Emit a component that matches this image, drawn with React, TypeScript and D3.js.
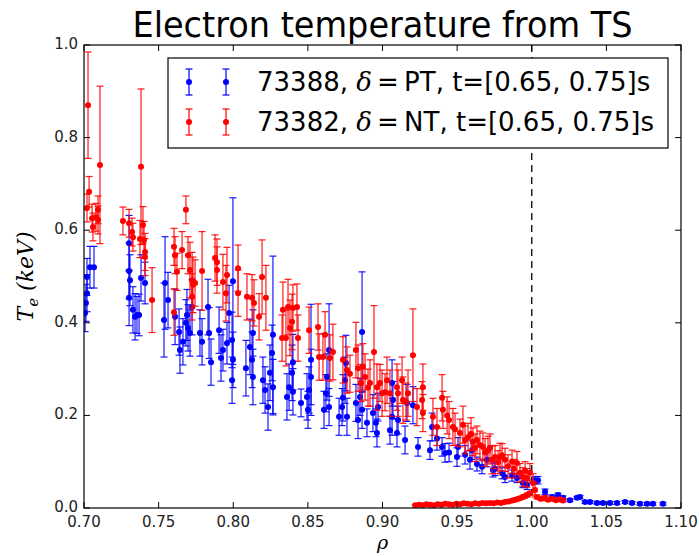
import React from "react";
import * as d3 from "d3";

// ---------- data ----------
const blueRho = [
  0.7007, 0.7013, 0.7020, 0.7020, 0.7040, 0.7067,
  0.7302, 0.7302, 0.7308, 0.7302, 0.7328, 0.7342, 0.7355, 0.7369, 0.7382, 0.7409,
  0.7543, 0.7536, 0.7563, 0.7610, 0.7637, 0.7643, 0.7663, 0.7683, 0.7690, 0.7697, 0.7710, 0.7724,
  0.7777, 0.7791, 0.7831, 0.7838, 0.7851, 0.7905, 0.7918, 0.7931, 0.7958, 0.7972, 0.7992, 0.7998, 0.7992, 0.7998,
  0.8085, 0.8112, 0.8126, 0.8132, 0.8132, 0.8199, 0.8213, 0.8233, 0.8246, 0.8260, 0.8266, 0.8266,
  0.8360, 0.8374, 0.8394, 0.8400, 0.8400, 0.8454, 0.8494, 0.8501, 0.8508, 0.8521, 0.8521,
  0.8608, 0.8621, 0.8628, 0.8642, 0.8642, 0.8709, 0.8729, 0.8735, 0.8749, 0.8755, 0.8762,
  0.8822, 0.8836, 0.8849, 0.8863, 0.8863, 0.8896, 0.8936, 0.8956, 0.8963, 0.8970,
  0.9050, 0.9064, 0.9070, 0.9097, 0.9064, 0.9104, 0.9151, 0.9164, 0.9204, 0.9238,
  0.9318, 0.9332, 0.9365, 0.9399, 0.9419, 0.9446, 0.9499, 0.9506, 0.9553, 0.9586, 0.9600,
  0.9633, 0.9667, 0.9700, 0.9740, 0.9754, 0.9801,
  0.9821, 0.9868, 0.9901, 0.9941, 0.9968, 1.0022, 1.0042, 1.0089,
  1.0136, 1.0176, 1.0209, 1.0256, 1.0303, 1.0323, 1.0357, 1.0390, 1.0437, 1.0477,
  1.0524, 1.0571, 1.0625, 1.0672, 1.0725, 1.0772, 1.0812, 1.0879,
];
const blueTe = [
  0.421, 0.443, 0.464, 0.499, 0.520, 0.520,
  0.572, 0.512, 0.492, 0.454, 0.428, 0.413, 0.417, 0.417, 0.497, 0.486,
  0.486, 0.406, 0.449, 0.413, 0.380, 0.341, 0.359, 0.400, 0.417, 0.389, 0.378, 0.434,
  0.378, 0.359, 0.434, 0.378, 0.315, 0.384, 0.324, 0.341, 0.356, 0.421, 0.276, 0.490, 0.363, 0.320,
  0.302, 0.348, 0.320, 0.283, 0.378, 0.276, 0.255, 0.218, 0.292, 0.335, 0.374, 0.261,
  0.240, 0.261, 0.292, 0.315, 0.251, 0.227, 0.240, 0.212, 0.255, 0.283, 0.320,
  0.212, 0.248, 0.283, 0.341, 0.218, 0.197, 0.218, 0.238, 0.276, 0.313, 0.197,
  0.227, 0.190, 0.240, 0.380, 0.212, 0.184, 0.205, 0.184, 0.162, 0.218,
  0.168, 0.270, 0.233, 0.162, 0.197, 0.190, 0.147, 0.227, 0.222, 0.132,
  0.125, 0.175, 0.150, 0.132, 0.119, 0.120, 0.110, 0.132, 0.115, 0.104, 0.125,
  0.095, 0.089, 0.104, 0.082, 0.085, 0.075,
  0.067, 0.070, 0.065, 0.054, 0.050, 0.060, 0.060, 0.035,
  0.024, 0.028, 0.022, 0.017, 0.022, 0.024, 0.013, 0.013, 0.011, 0.011,
  0.011, 0.011, 0.013, 0.011, 0.009, 0.009, 0.009, 0.009,
];
const blueErr = [
  0.040, 0.040, 0.040, 0.040, 0.045, 0.045,
  0.060, 0.060, 0.055, 0.060, 0.050, 0.050, 0.040, 0.045, 0.050, 0.045,
  0.100, 0.080, 0.060, 0.060, 0.050, 0.050, 0.050, 0.050, 0.055, 0.050, 0.050, 0.060,
  0.050, 0.050, 0.060, 0.055, 0.050, 0.050, 0.050, 0.045, 0.045, 0.060, 0.050, 0.180, 0.060, 0.060,
  0.060, 0.060, 0.060, 0.060, 0.050, 0.050, 0.050, 0.050, 0.060, 0.060, 0.170, 0.060,
  0.050, 0.050, 0.060, 0.060, 0.050, 0.030, 0.050, 0.040, 0.050, 0.060, 0.120,
  0.040, 0.040, 0.050, 0.100, 0.040, 0.040, 0.040, 0.050, 0.050, 0.060, 0.040,
  0.040, 0.040, 0.040, 0.130, 0.040, 0.030, 0.040, 0.030, 0.030, 0.030,
  0.030, 0.050, 0.040, 0.030, 0.040, 0.030, 0.030, 0.040, 0.040, 0.020,
  0.020, 0.030, 0.025, 0.020, 0.020, 0.020, 0.020, 0.020, 0.020, 0.020, 0.020,
  0.015, 0.015, 0.015, 0.015, 0.015, 0.012,
  0.012, 0.012, 0.010, 0.010, 0.010, 0.008, 0.008, 0.006,
  0.004, 0.004, 0.004, 0.003, 0.003, 0.003, 0.003, 0.003, 0.003, 0.003,
  0.003, 0.003, 0.003, 0.003, 0.003, 0.003, 0.003, 0.003,
];

const redRho = [
  0.7020, 0.7027, 0.7034, 0.7054, 0.7060, 0.7080, 0.7094, 0.7107, 0.7094,
  0.7261, 0.7302, 0.7322, 0.7328, 0.7382, 0.7375, 0.7395, 0.7402, 0.7409, 0.7409, 0.7456,
  0.7683, 0.7603, 0.7610, 0.7623, 0.7603, 0.7657, 0.7697, 0.7710, 0.7724, 0.7730, 0.7744, 0.7724, 0.7791,
  0.7878, 0.7891, 0.7891, 0.7931, 0.7958, 0.7951, 0.8032, 0.8032,
  0.8092, 0.8126, 0.8139, 0.8173, 0.8193, 0.8219,
  0.8327, 0.8333, 0.8353, 0.8367, 0.8380, 0.8394, 0.8400, 0.8427, 0.8434,
  0.8508, 0.8568, 0.8575, 0.8601, 0.8615, 0.8648, 0.8668, 0.8735, 0.8762,
  0.8782, 0.8822, 0.8836, 0.8856, 0.8869, 0.8883, 0.8903, 0.8916, 0.8943, 0.8963, 0.8983,
  0.8997, 0.9017, 0.9030, 0.9050, 0.9097,
  0.9104, 0.9131, 0.9137, 0.9157, 0.9171, 0.9204, 0.9231, 0.9265, 0.9271, 0.9271, 0.9338, 0.9365,
  0.9399, 0.9405, 0.9433, 0.9446, 0.9472, 0.9486, 0.9519, 0.9539, 0.9553, 0.9573, 0.9593,
  0.9606, 0.9620, 0.9633, 0.9653, 0.9673, 0.9687,
  0.9707, 0.9720, 0.9734, 0.9754, 0.9774, 0.9787, 0.9801, 0.9821, 0.9841, 0.9868, 0.9881,
  0.9901, 0.9921, 0.9941, 0.9955, 0.9968, 0.9988, 1.0008, 1.0022,
  0.9220, 0.9245, 0.9270, 0.9295, 0.9320, 0.9345, 0.9370, 0.9395, 0.9420, 0.9445, 0.9470,
  0.9495, 0.9520, 0.9545, 0.9570, 0.9595, 0.9620, 0.9645, 0.9670, 0.9695, 0.9720, 0.9745,
  0.9770, 0.9795, 0.9820, 0.9845, 0.9870, 0.9890, 0.9910, 0.9930, 0.9950, 0.9970, 0.9990,
  1.0035, 1.0062, 1.0089, 1.0109, 1.0136, 1.0162, 1.0189, 1.0209,
];
const redTe = [
  0.648, 0.870, 0.683, 0.626, 0.607, 0.628, 0.644, 0.741, 0.622,
  0.620, 0.615, 0.596, 0.585, 0.737, 0.581, 0.611, 0.579, 0.553, 0.542, 0.449,
  0.644, 0.564, 0.546, 0.510, 0.423, 0.557, 0.546, 0.514, 0.492, 0.482, 0.486, 0.456, 0.512,
  0.540, 0.531, 0.514, 0.488, 0.503, 0.464, 0.518, 0.464,
  0.456, 0.454, 0.443, 0.413, 0.499, 0.454,
  0.367, 0.428, 0.367, 0.434, 0.389, 0.402, 0.432, 0.434, 0.367,
  0.384, 0.391, 0.326, 0.326, 0.374, 0.324, 0.337, 0.320, 0.298,
  0.290, 0.341, 0.302, 0.270, 0.305, 0.283, 0.260, 0.270, 0.337, 0.261, 0.270,
  0.248, 0.250, 0.276, 0.248, 0.261,
  0.248, 0.276, 0.233, 0.230, 0.248, 0.330, 0.218, 0.233, 0.205, 0.261, 0.197, 0.175,
  0.238, 0.212, 0.200, 0.190, 0.175, 0.170, 0.162, 0.180, 0.147, 0.153, 0.160,
  0.143, 0.130, 0.147, 0.136, 0.132, 0.120,
  0.125, 0.130, 0.104, 0.110, 0.099, 0.110, 0.114, 0.104, 0.090, 0.100, 0.085,
  0.097, 0.076, 0.067, 0.080, 0.065, 0.076, 0.054, 0.039,
  0.006, 0.007, 0.006, 0.008, 0.007, 0.006, 0.008, 0.007, 0.009, 0.008, 0.007,
  0.009, 0.008, 0.010, 0.009, 0.008, 0.010, 0.009, 0.011, 0.010, 0.011, 0.010,
  0.012, 0.011, 0.013, 0.014, 0.016, 0.018, 0.020, 0.022, 0.025, 0.028, 0.032,
  0.024, 0.020, 0.022, 0.018, 0.020, 0.017, 0.019, 0.016,
];
const redErr = [
  0.030, 0.115, 0.033, 0.030, 0.030, 0.030, 0.030, 0.170, 0.030,
  0.030, 0.030, 0.030, 0.030, 0.168, 0.040, 0.040, 0.040, 0.040, 0.040, 0.070,
  0.030, 0.040, 0.040, 0.040, 0.050, 0.040, 0.040, 0.060, 0.060, 0.060, 0.050, 0.050, 0.085,
  0.050, 0.050, 0.050, 0.060, 0.060, 0.060, 0.050, 0.050,
  0.050, 0.050, 0.050, 0.050, 0.080, 0.070,
  0.050, 0.060, 0.060, 0.060, 0.060, 0.060, 0.050, 0.050, 0.050,
  0.050, 0.050, 0.050, 0.050, 0.050, 0.050, 0.060, 0.050, 0.050,
  0.040, 0.060, 0.050, 0.040, 0.050, 0.050, 0.040, 0.050, 0.100, 0.050, 0.040,
  0.050, 0.040, 0.050, 0.050, 0.050,
  0.050, 0.050, 0.050, 0.040, 0.050, 0.100, 0.040, 0.040, 0.040, 0.050, 0.040, 0.040,
  0.050, 0.040, 0.040, 0.040, 0.040, 0.035, 0.030, 0.040, 0.030, 0.030, 0.035,
  0.030, 0.030, 0.030, 0.030, 0.030, 0.030,
  0.030, 0.030, 0.030, 0.025, 0.025, 0.030, 0.025, 0.025, 0.025, 0.025, 0.020,
  0.025, 0.020, 0.020, 0.020, 0.020, 0.020, 0.020, 0.015,
  0.002, 0.002, 0.002, 0.002, 0.002, 0.002, 0.002, 0.002, 0.002, 0.002, 0.002,
  0.002, 0.002, 0.002, 0.002, 0.002, 0.002, 0.002, 0.002, 0.002, 0.002, 0.002,
  0.002, 0.002, 0.002, 0.003, 0.003, 0.003, 0.003, 0.003, 0.004, 0.004, 0.004,
  0.004, 0.004, 0.004, 0.003, 0.003, 0.003, 0.003, 0.003,
];

const xTicks = [0.7, 0.75, 0.8, 0.85, 0.9, 0.95, 1.0, 1.05, 1.1];
const yTicks = [0.0, 0.2, 0.4, 0.6, 0.8, 1.0];
const titleText = "Electron temperature from TS";
const legendLabels = [
  { shot: "73388", tri: "PT", time: "t=[0.65, 0.75]s" },
  { shot: "73382", tri: "NT", time: "t=[0.65, 0.75]s" },
];
const seriesColors = ["#0000ff", "#ff0000"];

const W = 699;
const H = 556;
const L = 84, R = 681, T = 45, B = 508;

function ErrSeries({ rho, te, err, color, x, y }) {
  const cap = 3.5;
  return (
    <g>
      {rho.map((r, i) => {
        const cx = x(r);
        const y1 = y(te[i] + err[i]);
        const y2 = y(Math.max(te[i] - err[i], -0.05));
        return (
          <g key={i} stroke={color} strokeWidth={1.2} strokeOpacity={0.9}>
            <line x1={cx} x2={cx} y1={y1} y2={y2} />
            <line x1={cx - cap} x2={cx + cap} y1={y1} y2={y1} />
            <line x1={cx - cap} x2={cx + cap} y1={y2} y2={y2} />
          </g>
        );
      })}
      {rho.map((r, i) => (
        <circle key={"c" + i} cx={x(r)} cy={y(te[i])} r={3} fill={color} />
      ))}
    </g>
  );
}

export default function App() {
  const x = d3.scaleLinear().domain([0.7, 1.1]).range([L, R]);
  const y = d3.scaleLinear().domain([0, 1]).range([B, T]);
  const fmtX = d3.format(".2f");
  const fmtY = d3.format(".1f");
  const tickFont = "DejaVu Sans, sans-serif";

  const legendX = 168, legendY = 58, legendW = 500, legendH = 90;
  const rowY = [82, 122];

  return (
    <svg width={W} height={H} style={{ position: "absolute", left: 0, top: 0, background: "#fff" }}>
      <rect x={0} y={0} width={W} height={H} fill="#fff" />
      <defs>
        <clipPath id="plotclip">
          <rect x={L} y={T} width={R - L} height={B - T} />
        </clipPath>
      </defs>
      <text x={(L + R) / 2} y={37} textAnchor="middle" fontFamily={tickFont} fontSize={36}
        textLength={500} lengthAdjust="spacingAndGlyphs" fill="#000">{titleText}</text>

      <g clipPath="url(#plotclip)">
        <line x1={x(1.0)} x2={x(1.0)} y1={T} y2={B} stroke="#000" strokeWidth={1.3} strokeDasharray="7,5" />
        <ErrSeries rho={blueRho} te={blueTe} err={blueErr} color={seriesColors[0]} x={x} y={y} />
        <ErrSeries rho={redRho} te={redTe} err={redErr} color={seriesColors[1]} x={x} y={y} />
      </g>

      {/* ticks */}
      <g stroke="#000" strokeWidth={1}>
        {xTicks.map((t) => (
          <g key={t}>
            <line x1={x(t)} x2={x(t)} y1={B} y2={B - 6} />
            <line x1={x(t)} x2={x(t)} y1={T} y2={T + 6} />
          </g>
        ))}
        {yTicks.map((t) => (
          <g key={t}>
            <line x1={L} x2={L + 6} y1={y(t)} y2={y(t)} />
            <line x1={R} x2={R - 6} y1={y(t)} y2={y(t)} />
          </g>
        ))}
      </g>
      <rect x={L} y={T} width={R - L} height={B - T} fill="none" stroke="#000" strokeWidth={1.2} />

      <g fontFamily={tickFont} fontSize={15} fill="#222">
        {xTicks.map((t) => (
          <text key={t} x={x(t)} y={B + 19} textAnchor="middle">{fmtX(t)}</text>
        ))}
        {yTicks.map((t) => (
          <text key={t} x={L - 6} y={y(t) + 4} textAnchor="end">{fmtY(t)}</text>
        ))}
      </g>

      <text x={(L + R) / 2} y={549} textAnchor="middle" fontFamily="DejaVu Serif, serif" fontStyle="italic" fontSize={19}>ρ</text>
      <text transform={`translate(33, ${(T + B) / 2}) rotate(-90)`} textAnchor="middle"
        fontFamily="DejaVu Serif, serif" fontStyle="italic" fontSize={22}>
        T<tspan fontSize={15} dy={5}>e</tspan><tspan dy={-5}> (keV)</tspan>
      </text>

      {/* legend */}
      <rect x={legendX} y={legendY} width={legendW} height={legendH} fill="#fff" stroke="#000" strokeWidth={1.2} />
      {legendLabels.map((lab, i) => (
        <g key={i}>
          {[189, 226].map((lx) => (
            <g key={lx} stroke={seriesColors[i]} strokeWidth={1.2}>
              <line x1={lx} x2={lx} y1={rowY[i] - 13} y2={rowY[i] + 13} />
              <line x1={lx - 3.5} x2={lx + 3.5} y1={rowY[i] - 13} y2={rowY[i] - 13} />
              <line x1={lx - 3.5} x2={lx + 3.5} y1={rowY[i] + 13} y2={rowY[i] + 13} />
              <circle cx={lx} cy={rowY[i]} r={3} fill={seriesColors[i]} stroke="none" />
            </g>
          ))}
          <text x={257} y={rowY[i] + 9} fontFamily={tickFont} fontSize={26} fill="#000">
            {lab.shot + ", "}
            <tspan fontFamily="DejaVu Serif, serif" fontStyle="italic">δ</tspan>
            <tspan>{"\u2009=\u2009"}</tspan>
            {lab.tri + ", " + lab.time}
          </text>
        </g>
      ))}
    </svg>
  );
}
